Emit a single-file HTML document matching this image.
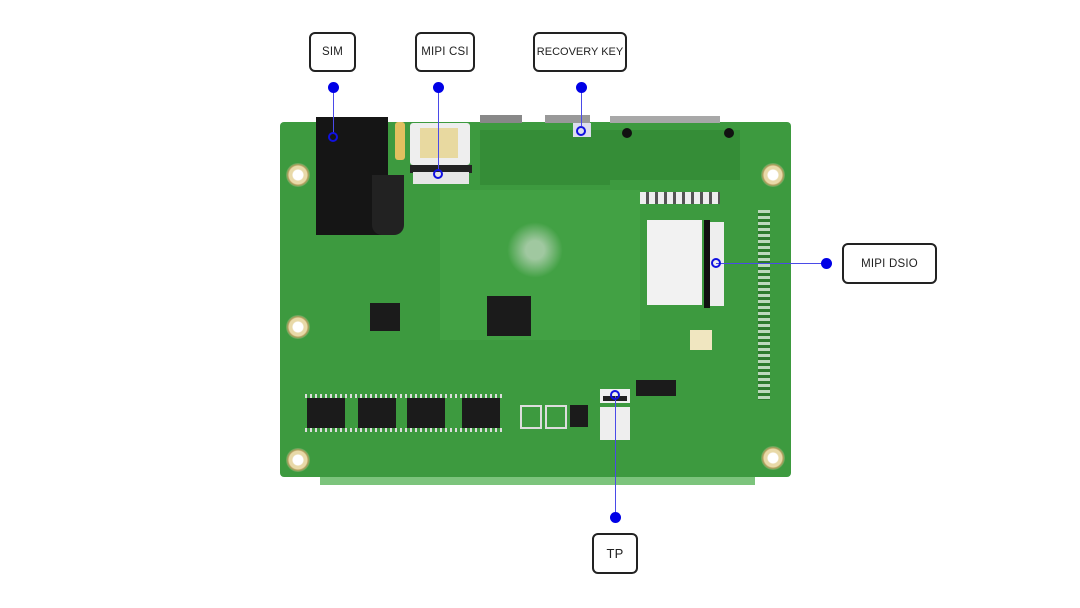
<!DOCTYPE html>
<html><head><meta charset="utf-8"><style>
html,body{margin:0;padding:0;background:#fff;}
#c{position:relative;width:1080px;height:608px;overflow:hidden;background:#fff;font-family:"Liberation Sans",sans-serif;}
.a{position:absolute;}
.lbl{position:absolute;border:2px solid #222;border-radius:6px;background:#fff;box-sizing:border-box;display:flex;align-items:center;justify-content:center;font-size:11.5px;letter-spacing:.2px;color:#222;white-space:nowrap;}
.dot{position:absolute;width:11px;height:11px;border-radius:50%;background:#0000e6;}
.ring{position:absolute;width:10px;height:10px;border-radius:50%;border:2px solid #1010e0;box-sizing:border-box;}
.vl{position:absolute;width:1px;background:#4a4ae8;}
.hole{position:absolute;width:24px;height:24px;border-radius:50%;background:radial-gradient(circle,#fff 0 5px,#e8d9a8 6px 9px,#b8a060 10px,#5aa85a 12px);}
.chip{position:absolute;background:#1b1b1b;}
.pins{position:absolute;background:repeating-linear-gradient(90deg,#ddd 0 2px,transparent 2px 5px);}
</style></head><body><div id="c">
<div class="a" style="left:320px;top:470px;width:435px;height:15px;background:#7cc47c;"></div>
<div class="a" style="left:280px;top:122px;width:511px;height:355px;background:#3d9a3f;border-radius:4px;"></div>
<div class="a" style="left:440px;top:190px;width:200px;height:150px;background:#44a246;opacity:.8;"></div>
<div class="a" style="left:500px;top:220px;width:70px;height:60px;background:radial-gradient(circle,#a0c8a0 0 20%,transparent 60%);"></div>
<div class="a" style="left:480px;top:130px;width:130px;height:55px;background:#358d37;"></div>
<div class="a" style="left:610px;top:130px;width:130px;height:50px;background:#358d37;"></div>
<div class="a" style="left:480px;top:115px;width:42px;height:8px;background:#888;"></div>
<div class="a" style="left:545px;top:115px;width:45px;height:8px;background:#999;"></div>
<div class="a" style="left:610px;top:116px;width:110px;height:7px;background:#a8a8a8;"></div>
<div class="a" style="left:573px;top:123px;width:18px;height:14px;background:#dde;"></div>
<div class="a" style="left:622px;top:128px;width:10px;height:10px;border-radius:50%;background:#111;"></div>
<div class="a" style="left:724px;top:128px;width:10px;height:10px;border-radius:50%;background:#111;"></div>
<div class="a" style="left:316px;top:117px;width:72px;height:118px;background:#151515;"></div>
<div class="a" style="left:372px;top:175px;width:32px;height:60px;background:#222;border-radius:0 0 10px 10px;"></div>
<div class="a" style="left:395px;top:122px;width:10px;height:38px;background:#e2c060;border-radius:3px;"></div>
<div class="a" style="left:410px;top:123px;width:60px;height:42px;background:#eee;border-radius:3px;"></div>
<div class="a" style="left:420px;top:128px;width:38px;height:30px;background:#e8d9a0;"></div>
<div class="a" style="left:410px;top:165px;width:62px;height:8px;background:#222;"></div>
<div class="a" style="left:413px;top:172px;width:56px;height:12px;background:#e6e6e6;"></div>
<div class="chip" style="left:487px;top:296px;width:44px;height:40px;"></div>
<div class="chip" style="left:370px;top:303px;width:30px;height:28px;"></div>
<div class="chip" style="left:307px;top:398px;width:38px;height:30px;"></div>
<div class="chip" style="left:358px;top:398px;width:38px;height:30px;"></div>
<div class="chip" style="left:407px;top:398px;width:38px;height:30px;"></div>
<div class="chip" style="left:462px;top:398px;width:38px;height:30px;"></div>
<div class="pins" style="left:305px;top:394px;width:200px;height:4px;"></div>
<div class="pins" style="left:305px;top:428px;width:200px;height:4px;"></div>
<div class="chip" style="left:570px;top:405px;width:18px;height:22px;"></div>
<div class="a" style="left:520px;top:405px;width:18px;height:20px;border:2px solid #ddd;"></div>
<div class="a" style="left:545px;top:405px;width:18px;height:20px;border:2px solid #ddd;"></div>
<div class="chip" style="left:636px;top:380px;width:40px;height:16px;"></div>
<div class="a" style="left:640px;top:192px;width:80px;height:12px;background:repeating-linear-gradient(90deg,#eee 0 6px,#555 6px 9px);"></div>
<div class="a" style="left:647px;top:220px;width:55px;height:85px;background:#f2f2f2;"></div>
<div class="a" style="left:704px;top:220px;width:6px;height:88px;background:#111;"></div>
<div class="a" style="left:710px;top:222px;width:14px;height:84px;background:#eee;"></div>
<div class="a" style="left:690px;top:330px;width:22px;height:20px;background:#f0e6c0;"></div>
<div class="a" style="left:600px;top:389px;width:30px;height:14px;background:#f0f0f0;"></div>
<div class="a" style="left:603px;top:396px;width:24px;height:5px;background:#222;"></div>
<div class="a" style="left:600px;top:407px;width:30px;height:33px;background:#eee;"></div>
<div class="a" style="left:758px;top:210px;width:12px;height:90px;background:repeating-linear-gradient(180deg,#bdd8bd 0 3px,#2d7a2d 3px 6px);"></div>
<div class="a" style="left:758px;top:300px;width:12px;height:100px;background:repeating-linear-gradient(180deg,#bdd8bd 0 3px,#2d7a2d 3px 6px);"></div>
<div class="hole" style="left:286px;top:163px;"></div>
<div class="hole" style="left:286px;top:315px;"></div>
<div class="hole" style="left:286px;top:448px;"></div>
<div class="hole" style="left:761px;top:163px;"></div>
<div class="hole" style="left:761px;top:446px;"></div>
<div class="lbl" style="left:309px;top:32px;width:47px;height:40px;">SIM</div>
<div class="lbl" style="left:415px;top:32px;width:60px;height:40px;">MIPI CSI</div>
<div class="lbl" style="left:533px;top:32px;width:94px;height:40px;font-size:11px;letter-spacing:0;">RECOVERY KEY</div>
<div class="lbl" style="left:842px;top:243px;width:95px;height:41px;">MIPI DSIO</div>
<div class="lbl" style="left:592px;top:533px;width:46px;height:41px;font-size:13px;">TP</div>
<div class="vl" style="left:333px;top:88px;height:46px;"></div>
<div class="dot" style="left:328px;top:82px;"></div>
<div class="ring" style="left:328px;top:132px;"></div>
<div class="vl" style="left:438px;top:88px;height:82px;"></div>
<div class="dot" style="left:433px;top:82px;"></div>
<div class="ring" style="left:433px;top:169px;"></div>
<div class="vl" style="left:581px;top:88px;height:38px;"></div>
<div class="dot" style="left:576px;top:82px;"></div>
<div class="ring" style="left:576px;top:126px;"></div>
<div class="a" style="left:716px;top:263px;width:110px;height:1px;background:#4a4ae8;"></div>
<div class="dot" style="left:821px;top:258px;"></div>
<div class="ring" style="left:711px;top:258px;"></div>
<div class="vl" style="left:615px;top:396px;height:120px;"></div>
<div class="dot" style="left:610px;top:512px;"></div>
<div class="ring" style="left:610px;top:390px;"></div>
</div></body></html>
